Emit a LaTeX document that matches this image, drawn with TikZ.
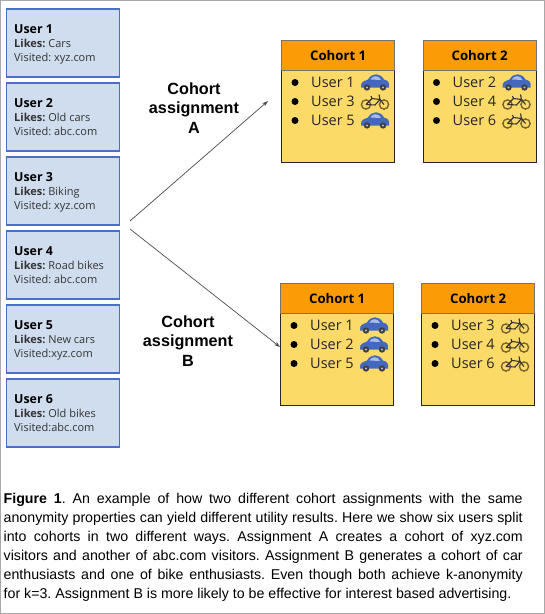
\documentclass[tikz,border=0pt]{standalone}
\usepackage{fontspec}
\usetikzlibrary{arrows.meta}
\setmainfont{Liberation Sans}
\newfontfamily\boxfont{Open Sans}
\frenchspacing
\tikzset{
	pics/coche/.style={code={
		\fill[cuerpo] (-14,4) .. controls (-15,-1) and (-9,-2) .. (-7,-3) .. controls (-3,-10) and (5,-10) .. (9,-3) .. controls (13,-2) and (15,0) .. (14,5) -- (-14,5) -- cycle;
		\fill[cristal] (-4.5,-3) .. controls (-2.5,-7.5) and (4,-7.5) .. (6,-2.5) -- cycle;
		\fill[rueda] (-8,5) circle (3.2) (8,5) circle (3.2);
		\fill[cristal] (-8,5) circle (1.2) (8,5) circle (1.2);
	}},
	pics/bici/.style={code={
		\draw[llanta] (-9,3) circle (4.6) (9,3) circle (4.6);
		\draw[cuadro] (-9,3) -- (-3,-3) -- (5,-2) -- (0,3.5) -- (-9,3) (5,-2) -- (9,3) (5,-2) -- (4,-7) (-3,-3) -- (-4,-5.5);
	}}
}
\begin{document}
\begin{tikzpicture}[x=1pt,y=-1pt,
		every node/.style={inner sep=0pt},
		usuario/.style={draw=userborde, fill=userfondo, line width=1.6pt, minimum width=113pt, minimum height=68pt, anchor=north west},
		dato/.style={anchor=base west, font=\boxfont\fontsize{11}{12}\selectfont, text=black!80},
		titulo/.style={anchor=base west, font=\boxfont\bfseries\fontsize{12.4}{12}\selectfont},
		cuerpobox/.style={draw=black!85, fill=cohfondo, line width=1.3pt, minimum width=113pt, minimum height=93pt, anchor=north west},
		cabecera/.style={draw=black!55, fill=cohhead, line width=1.3pt, minimum width=113pt, minimum height=30pt, anchor=north west, font=\boxfont\bfseries\fontsize{13.2}{14}\selectfont},
		miembro/.style={anchor=base west, font=\boxfont\fontsize{14.5}{15}\selectfont, text=black!85},
		punto/.style={circle, fill=black, minimum size=7pt},
		etiqueta/.style={align=center, font=\bfseries\fontsize{16.2}{19.2}\selectfont},
		flecha/.style={draw=black!70, line width=0.7pt, -{Stealth[length=6pt,width=4pt]}},
		cuerpo/.style={fill=carblue}, cristal/.style={fill=carglass}, rueda/.style={fill=black!75},
		llanta/.style={draw=bikebrown, line width=1.4pt}, cuadro/.style={draw=black!80, line width=1.1pt}]
	\definecolor{userborde}{HTML}{4A6FC9}
	\definecolor{userfondo}{HTML}{CFDDEF}
	\definecolor{cohfondo}{HTML}{FCDA68}
	\definecolor{cohhead}{HTML}{FB9B05}
	\definecolor{carblue}{HTML}{4468BE}
	\definecolor{carglass}{HTML}{A9BDE6}
	\definecolor{bikebrown}{HTML}{7A6330}
	\definecolor{marco}{HTML}{A8A8A8}
	\useasboundingbox (0,0) rectangle (545,614);
	\draw[marco, line width=1.2pt] (0.6,613.4) rectangle (544.4,0.6);
	% usuarios
	\foreach \n/\y/\gusto/\sitio in {1/8/Cars/Visited: xyz.com, 2/82/Old cars/Visited: abc.com, 3/156/Biking/Visited: xyz.com, 4/230/Road bikes/Visited: abc.com, 5/304/New cars/Visited:xyz.com, 6/378/Old bikes/Visited:abc.com}{
		\node[usuario] (U\n) at (5.5,\y) {};
		\node[titulo] (T\n) at (14,\y+25) {User \n};
		\node[dato] (L\n) at (14,\y+39) {\textbf{Likes:} \gusto};
		\node[dato] (S\n) at (14,\y+53) {\sitio};
	}
	% cohortes
	\node[cuerpobox] (A1) at (281,69) {};
	\node[cabecera] (HA1) at (281,39.5) {Cohort 1};
	\node[cuerpobox] (A2) at (422.5,69) {};
	\node[cabecera] (HA2) at (422.5,39.5) {Cohort 2};
	\node[cuerpobox] (B1) at (280,312) {};
	\node[cabecera] (HB1) at (280,282.5) {Cohort 1};
	\node[cuerpobox] (B2) at (421,312) {};
	\node[cabecera] (HB2) at (421,282.5) {Cohort 2};
	\foreach \c/\x/\y/\uno/\dos/\tres/\iuno/\idos/\itres in {A1/281/87/1/3/5/coche/bici/coche, A2/422.5/87/2/4/6/coche/bici/bici, B1/280/330/1/2/5/coche/coche/coche, B2/421/330/3/4/6/bici/bici/bici}{
		\foreach \k/\u/\i in {0/\uno/\iuno, 1/\dos/\idos, 2/\tres/\itres}{
			\node[punto] (P\c\k) at (\x+14,\y+\k*19-4.5) {};
			\node[miembro] (M\c\k) at (\x+30,\y+\k*19) {User \u};
			\pic at (\x+94,\y+\k*19-4.5) {\i};
		}
	}
	% asignaciones
	\node[etiqueta] (EA) at (194,108) {Cohort\\assignment\\A};
	\node[etiqueta] (EB) at (188,341) {Cohort\\assignment\\B};
	\coordinate (salidaA) at (130,221);
	\coordinate (salidaB) at (130,229);
	\coordinate (llegaA) at (268,101);
	\coordinate (llegaB) at (280,347);
	\draw[flecha] (salidaA) -- (llegaA);
	\draw[flecha] (salidaB) -- (llegaB);
	% pie
	\node[anchor=north west, text width=519pt, align=justify, font=\fontsize{14.2}{19}\selectfont] (PIE) at (3.5,493) {\textbf{Figure 1}. An example of how two different cohort assignments with the same\linebreak anonymity properties can yield different utility results. Here we show six users split\linebreak into cohorts in two different ways. Assignment A creates a cohort of xyz.com\linebreak visitors and another of abc.com visitors. Assignment B generates a cohort of car\linebreak enthusiasts and one of bike enthusiasts. Even though both achieve k-anonymity\linebreak for k=3. Assignment B is more likely to be effective for interest based advertising.};
\end{tikzpicture}
\end{document}
